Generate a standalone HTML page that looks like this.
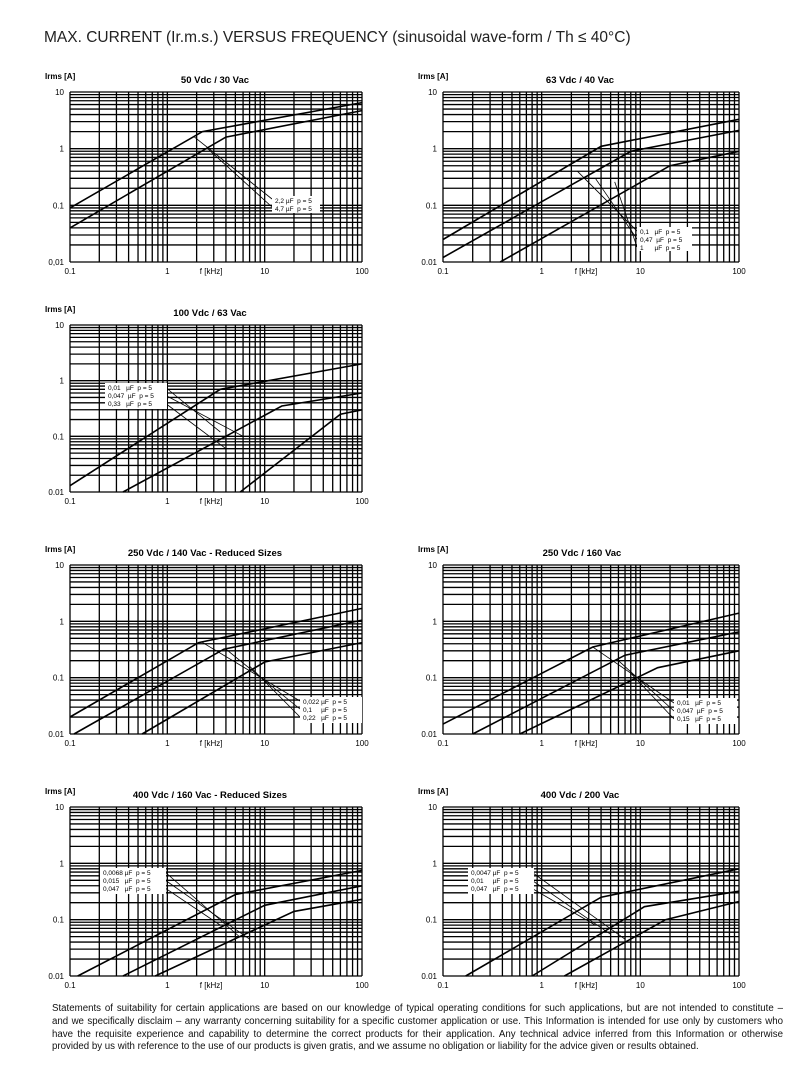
<!DOCTYPE html>
<html><head><meta charset="utf-8"><style>
body{margin:0;background:#fff;width:807px;height:1069px;overflow:hidden;font-family:"Liberation Sans",sans-serif}
.t{position:absolute;left:44px;top:29px;font-size:15.5px;color:#222}
.f{position:absolute;left:52px;top:1003px;width:731px;font-size:9.7px;line-height:12.8px;color:#111}
.f div{text-align:justify;text-align-last:justify;white-space:nowrap;height:12.8px}
.f div.l{text-align-last:left}
svg{position:absolute;left:0;top:0}
</style></head><body>
<div class="t">MAX. CURRENT (Ir.m.s.) VERSUS FREQUENCY (sinusoidal wave-form / Th ≤ 40°C)</div>
<svg id="s" width="807" height="1069" xmlns="http://www.w3.org/2000/svg"></svg>
<div class="f"><div style="white-space:normal">Statements of suitability for certain applications are based on our knowledge of typical operating conditions for such applications, but are not intended to constitute –</div><div style="white-space:normal">and we specifically disclaim – any warranty concerning suitability for a specific customer application or use. This Information is intended for use only by customers who</div><div style="white-space:normal">have the requisite experience and capability to determine the correct products for their application. Any technical advice inferred from this Information or otherwise</div><div class="l">provided by us with reference to the use of our products is given gratis, and we assume no obligation or liability for the advice given or results obtained.</div></div>
<script>
const S=document.getElementById('s');let h='';
function chart(c){
 const {x0,x1,y0,y1}=c;const dx=(x1-x0)/3,dy=(y1-y0)/3;
 const X=f=>x0+(Math.log10(f)+1)*dx, Y=v=>y1-(Math.log10(v)+2)*dy;
 for(let d=0;d<3;d++)for(let k=1;k<=9;k++){const xx=x0+d*dx+Math.log10(k)*dx;h+=`<line x1="${xx}" y1="${y0}" x2="${xx}" y2="${y1}" stroke="#000" stroke-width="1.3"/>`;
  const yy=y1-d*dy-Math.log10(k)*dy;h+=`<line x1="${x0}" y1="${yy}" x2="${x1}" y2="${yy}" stroke="#000" stroke-width="1.3"/>`;}
 h+=`<line x1="${x1}" y1="${y0}" x2="${x1}" y2="${y1}" stroke="#000" stroke-width="1.3"/><line x1="${x0}" y1="${y0}" x2="${x1}" y2="${y0}" stroke="#000" stroke-width="1.3"/>`;
 c.s.forEach(p=>{h+=`<polyline fill="none" stroke="#000" stroke-width="1.6" points="${p.map(q=>X(q[0]).toFixed(1)+','+Y(q[1]).toFixed(1)).join(' ')}"/>`;});
 c.ld.forEach(l=>{h+=`<line x1="${X(l[0])}" y1="${Y(l[1])}" x2="${l[2]}" y2="${l[3]}" stroke="#000" stroke-width="0.8"/>`;});
 const [lx,ly,lw,lh]=c.lb;h+=`<rect x="${lx}" y="${ly}" width="${lw}" height="${lh}" fill="#fff"/>`;
 c.lt.forEach((t,i)=>{h+=`<text x="${lx+3}" y="${ly+7+i*8}" font-size="6.5">${t}</text>`;});
 const yl=c.zero||'0.01';[['10',0],['1',1],['0.1',2],[yl,3]].forEach(([t,i])=>{h+=`<text x="${x0-6}" y="${y0+i*dy+3}" font-size="8" text-anchor="end">${t}</text>`;});
 [['0.1',0],['1',1],['10',2],['100',3]].forEach(([t,i])=>{h+=`<text x="${x0+i*dx}" y="${y1+12}" font-size="8" text-anchor="middle">${t}</text>`;});
 h+=`<text x="${x0+dx*1.45}" y="${y1+12}" font-size="8" text-anchor="middle">f [kHz]</text>`;
 h+=`<text x="${x0-25}" y="${y0-13}" font-size="8" font-weight="bold">Irms [A]</text>`;
 h+=`<text x="${c.tx}" y="${y0-9}" font-size="9.5" font-weight="bold" text-anchor="middle">${c.t}</text>`;
}
chart({x0:70,x1:362,y0:92,y1:262,zero:'0,01',t:'50 Vdc / 30 Vac',tx:215,
 s:[[[0.1,0.09],[2.3,2],[100,6.5]],[[0.1,0.04],[4,1.6],[100,4.7]]],
 ld:[[1.9,1.6,272,199],[2.6,1.0,272,207]],lb:[272,196,48,17],lt:['2,2 µF&#160;&#160;p = 5','4,7 µF&#160;&#160;p = 5']});
chart({x0:443,x1:739,y0:92,y1:262,t:'63 Vdc / 40 Vac',tx:580,
 s:[[[0.1,0.025],[4,1.1],[100,3.3]],[[0.1,0.012],[8,0.9],[100,2.1]],[[0.38,0.01],[20,0.5],[100,0.9]]],
 ld:[[2.3,0.4,637,231],[3.5,0.3,637,239],[5.5,0.26,637,247]],lb:[637,227,55,24],lt:['0,1&#160;&#160;&#160;µF&#160;&#160;p = 5','0,47&#160;&#160;µF&#160;&#160;p = 5','1&#160;&#160;&#160;&#160;&#160;&#160;µF&#160;&#160;p = 5']});
chart({x0:70,x1:362,y0:325,y1:492,t:'100 Vdc / 63 Vac',tx:210,
 s:[[[0.1,0.013],[3.5,0.7],[100,2]],[[0.35,0.01],[15,0.35],[100,0.6]],[[5.6,0.01],[60,0.25],[100,0.3]]],
 ld:[[3.5,0.12,165,387],[6,0.1,165,395],[4,0.06,165,403]],lb:[105,383,62,26],lt:['0,01&#160;&#160;&#160;µF&#160;&#160;p = 5','0,047&#160;&#160;µF&#160;&#160;p = 5','0,33&#160;&#160;&#160;µF&#160;&#160;p = 5']});
chart({x0:70,x1:362,y0:565,y1:734,t:'250 Vdc / 140 Vac - Reduced Sizes',tx:205,
 s:[[[0.1,0.02],[2.1,0.42],[100,1.7]],[[0.11,0.01],[3.8,0.32],[100,1.05]],[[0.55,0.01],[10,0.19],[100,0.42]]],
 ld:[[2.3,0.42,300,701],[4,0.32,300,709],[7,0.16,300,717]],lb:[300,697,62,26],lt:['0,022 µF&#160;&#160;p = 5','0,1&#160;&#160;&#160;&#160;&#160;µF&#160;&#160;p = 5','0,22&#160;&#160;&#160;µF&#160;&#160;p = 5']});
chart({x0:443,x1:739,y0:565,y1:734,t:'250 Vdc / 160 Vac',tx:582,
 s:[[[0.1,0.015],[3.3,0.35],[100,1.4]],[[0.2,0.01],[7,0.25],[100,0.65]],[[0.6,0.01],[15,0.15],[100,0.3]]],
 ld:[[3.3,0.35,674,703],[6,0.2,674,711],[8,0.12,674,719]],lb:[674,698,63,26],lt:['0,01&#160;&#160;&#160;µF&#160;&#160;p = 5','0,047&#160;&#160;µF&#160;&#160;p = 5','0,15&#160;&#160;&#160;µF&#160;&#160;p = 5']});
chart({x0:70,x1:362,y0:807,y1:976,t:'400 Vdc / 160 Vac - Reduced Sizes',tx:210,
 s:[[[0.12,0.01],[5,0.28],[100,0.75]],[[0.35,0.01],[10,0.18],[100,0.4]],[[0.75,0.01],[20,0.14],[100,0.23]]],
 ld:[[5.5,0.05,165,872],[7,0.045,165,880],[3.5,0.08,165,888]],lb:[100,868,66,26],lt:['0,0068 µF&#160;&#160;p = 5','0,015&#160;&#160;&#160;µF&#160;&#160;p = 5','0,047&#160;&#160;&#160;µF&#160;&#160;p = 5']});
chart({x0:443,x1:739,y0:807,y1:976,t:'400 Vdc / 200 Vac',tx:580,
 s:[[[0.17,0.01],[4,0.25],[100,0.8]],[[0.8,0.01],[11,0.17],[100,0.32]],[[1.7,0.01],[18,0.1],[100,0.21]]],
 ld:[[7,0.045,533,873],[5,0.055,533,881],[3.5,0.08,533,889]],lb:[468,868,66,26],lt:['0,0047 µF&#160;&#160;p = 5','0,01&#160;&#160;&#160;&#160;&#160;µF&#160;&#160;p = 5','0,047&#160;&#160;&#160;µF&#160;&#160;p = 5']});
S.innerHTML=h;
</script>
</body></html>
